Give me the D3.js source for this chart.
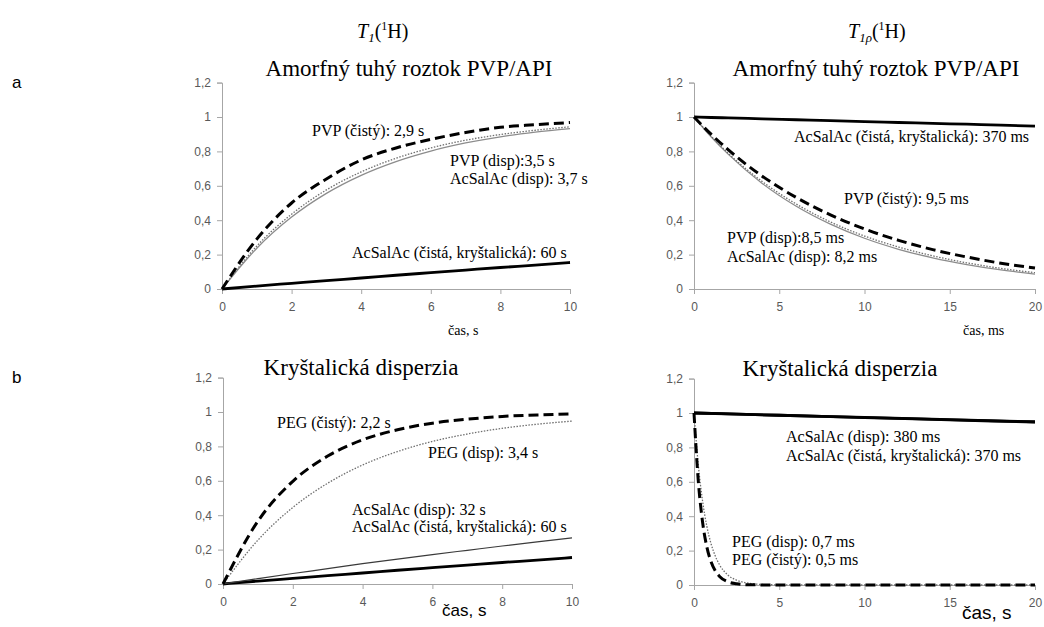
<!DOCTYPE html>
<html>
<head>
<meta charset="utf-8">
<script src="https://cdn.jsdelivr.net/npm/d3@7"></script>
<style>
  body { margin: 0; background: #fff; }
  .tick text { font-family: "Liberation Sans", Arial, sans-serif; font-size: 12px; fill: #595959; }
  .domain, .tick line { stroke: #a6a6a6; }
  .serif { font-family: "Liberation Serif", "Times New Roman", serif; fill: #000; }
</style>
</head>
<body>
<div id="chart"></div>
<script>
// time axes
const tT1 = [0, 1, 2, 3, 4, 5, 6, 7, 8, 9, 10];
const tT1rho = [0, 1, 2, 4, 6, 8, 10, 12, 14, 16, 18, 20];
const tFast = [0, 0.25, 0.5, 0.75, 1, 1.25, 1.5, 2, 2.5, 3, 3.5, 4, 5, 10, 15, 20];
const tSlow = [0, 5, 10, 15, 20];

// a) amorphous solid dispersion, T1
const pvpPureT1 = [0, 0.29, 0.50, 0.64, 0.75, 0.82, 0.87, 0.91, 0.94, 0.955, 0.968];
const pvpDispT1 = [0, 0.25, 0.435, 0.576, 0.681, 0.76, 0.82, 0.865, 0.898, 0.923, 0.943];
const aspDispT1 = [0, 0.237, 0.418, 0.556, 0.661, 0.741, 0.802, 0.849, 0.885, 0.912, 0.933];
const aspCrystT1 = [0, 0.017, 0.033, 0.049, 0.064, 0.080, 0.095, 0.110, 0.125, 0.139, 0.154];

// a) amorphous solid dispersion, T1rho
const aspCrystT1rho = [1, 0.997, 0.995, 0.989, 0.984, 0.979, 0.973, 0.968, 0.963, 0.958, 0.953, 0.947];
const pvpPureT1rho = [1, 0.90, 0.81, 0.656, 0.532, 0.431, 0.349, 0.283, 0.229, 0.186, 0.150, 0.122];
const pvpDispT1rho = [1, 0.889, 0.790, 0.625, 0.494, 0.390, 0.308, 0.244, 0.193, 0.152, 0.120, 0.095];
const aspDispT1rho = [1, 0.885, 0.784, 0.614, 0.481, 0.377, 0.295, 0.231, 0.181, 0.142, 0.111, 0.087];

// b) crystalline dispersion, T1
const pegPureT1 = [0, 0.365, 0.597, 0.744, 0.838, 0.897, 0.935, 0.958, 0.974, 0.983, 0.989];
const pegDispT1 = [0, 0.255, 0.445, 0.586, 0.692, 0.77, 0.829, 0.872, 0.905, 0.929, 0.947];
const aspDispCrT1 = [0, 0.031, 0.061, 0.089, 0.118, 0.145, 0.171, 0.196, 0.221, 0.245, 0.268];

// b) crystalline dispersion, T1rho
const pegPureT1rho = [1, 0.607, 0.368, 0.223, 0.135, 0.082, 0.050, 0.018, 0.007, 0.002, 0.001, 0, 0, 0, 0, 0];
const pegDispT1rho = [1, 0.700, 0.490, 0.343, 0.240, 0.168, 0.117, 0.057, 0.028, 0.014, 0.007, 0.003, 0.001, 0, 0, 0];
const aspDispCrT1rho = [1, 0.987, 0.974, 0.961, 0.949];
const aspCrystCrT1rho = [1, 0.987, 0.973, 0.960, 0.947];

const yTicks = [0, 0.2, 0.4, 0.6, 0.8, 1, 1.2];
const xTicksS = [0, 2, 4, 6, 8, 10];
const xTicksMs = [0, 5, 10, 15, 20];

const styles = {
    thick: { stroke: "#000", width: 2.8, dash: null },
    dashed: { stroke: "#000", width: 3, dash: "10,5" },
    grayLine: { stroke: "#8c8c8c", width: 1.3, dash: null },
    dotted: { stroke: "#6f6f6f", width: 1.3, dash: "1.5,1.5" },
    darkLine: { stroke: "#3a3a3a", width: 1.2, dash: null }
};

const panels = [
    {
        x: [222, 570], y: [289, 82.6], xMax: 10, xTicks: xTicksS,
        title: "Amorfný tuhý roztok PVP/API", titleX: 409, titleY: 76,
        axisLabel: { text: "čas, s", x: 448, y: 335, serif: true, size: 14 },
        series: [
            { t: tT1, v: aspCrystT1, style: "thick" },
            { t: tT1, v: aspDispT1, style: "grayLine" },
            { t: tT1, v: pvpDispT1, style: "dotted" },
            { t: tT1, v: pvpPureT1, style: "dashed" }
        ],
        notes: [
            { text: "PVP (čistý): 2,9 s", x: 312, y: 136 },
            { text: "PVP (disp):3,5 s", x: 450, y: 166 },
            { text: "AcSalAc (disp): 3,7 s", x: 450, y: 184 },
            { text: "AcSalAc (čistá, kryštalická): 60 s", x: 352, y: 258 }
        ]
    },
    {
        x: [694, 1035], y: [289, 82.6], xMax: 20, xTicks: xTicksMs,
        title: "Amorfný tuhý roztok PVP/API", titleX: 876, titleY: 76,
        axisLabel: { text: "čas, ms", x: 963, y: 335, serif: true, size: 14 },
        series: [
            { t: tT1rho, v: aspCrystT1rho, style: "thick" },
            { t: tT1rho, v: aspDispT1rho, style: "grayLine" },
            { t: tT1rho, v: pvpDispT1rho, style: "dotted" },
            { t: tT1rho, v: pvpPureT1rho, style: "dashed" }
        ],
        notes: [
            { text: "AcSalAc (čistá, kryštalická): 370 ms", x: 794, y: 142 },
            { text: "PVP (čistý): 9,5 ms", x: 844, y: 204 },
            { text: "PVP (disp):8,5 ms", x: 727, y: 243 },
            { text: "AcSalAc (disp): 8,2 ms", x: 727, y: 262 }
        ]
    },
    {
        x: [223, 572], y: [584, 377.6], xMax: 10, xTicks: xTicksS,
        title: "Kryštalická disperzia", titleX: 361, titleY: 375,
        axisLabel: { text: "čas, s", x: 442, y: 616, serif: false, size: 17 },
        series: [
            { t: tT1, v: aspCrystT1, style: "thick" },
            { t: tT1, v: aspDispCrT1, style: "darkLine" },
            { t: tT1, v: pegDispT1, style: "dotted" },
            { t: tT1, v: pegPureT1, style: "dashed" }
        ],
        notes: [
            { text: "PEG (čistý): 2,2 s", x: 277, y: 428 },
            { text: "PEG (disp): 3,4 s", x: 428, y: 458 },
            { text: "AcSalAc (disp): 32 s", x: 352, y: 515 },
            { text: "AcSalAc (čistá, kryštalická): 60 s", x: 352, y: 532 }
        ]
    },
    {
        x: [694, 1035], y: [585, 378.6], xMax: 20, xTicks: xTicksMs,
        title: "Kryštalická disperzia", titleX: 840, titleY: 376,
        axisLabel: { text: "čas, s", x: 962, y: 619, serif: false, size: 19 },
        series: [
            { t: tSlow, v: aspCrystCrT1rho, style: "thick" },
            { t: tSlow, v: aspDispCrT1rho, style: "thick" },
            { t: tFast, v: pegDispT1rho, style: "dotted" },
            { t: tFast, v: pegPureT1rho, style: "dashed" }
        ],
        notes: [
            { text: "AcSalAc (disp): 380 ms", x: 786, y: 442 },
            { text: "AcSalAc (čistá, kryštalická): 370 ms", x: 786, y: 461 },
            { text: "PEG (disp): 0,7 ms", x: 732, y: 547 },
            { text: "PEG (čistý): 0,5 ms", x: 732, y: 565 }
        ]
    }
];

const svg = d3.select("#chart").append("svg")
    .attr("width", 1044)
    .attr("height", 627);

function fmt(d) {
    return String(d).replace(".", ",");
}

panels.forEach(function(p) {
    const x = d3.scaleLinear().domain([0, p.xMax]).range(p.x);
    const y = d3.scaleLinear().domain([0, 1.2]).range(p.y);
    const g = svg.append("g");

    g.append("g")
        .attr("transform", `translate(${p.x[0]},0)`)
        .call(d3.axisLeft(y).tickValues(yTicks).tickFormat(fmt).tickSize(5).tickSizeOuter(5).tickPadding(6));

    g.append("g")
        .attr("transform", `translate(0,${y(0)})`)
        .call(d3.axisBottom(x).tickValues(p.xTicks).tickFormat(fmt).tickSize(5).tickSizeOuter(0).tickPadding(8));

    const line = d3.line()
        .x(d => x(d[0]))
        .y(d => y(d[1]))
        .curve(d3.curveMonotoneX);

    p.series.forEach(function(s) {
        const st = styles[s.style];
        g.append("path")
            .datum(s.t.map((t, i) => [t, s.v[i]]))
            .attr("fill", "none")
            .attr("stroke", st.stroke)
            .attr("stroke-width", st.width)
            .attr("stroke-dasharray", st.dash)
            .attr("d", line);
    });

    g.append("text")
        .attr("class", "serif")
        .attr("x", p.titleX)
        .attr("y", p.titleY)
        .attr("text-anchor", "middle")
        .style("font-size", "23px")
        .text(p.title);

    p.notes.forEach(function(n) {
        g.append("text")
            .attr("class", "serif")
            .attr("x", n.x)
            .attr("y", n.y)
            .style("font-size", "16px")
            .text(n.text);
    });

    g.append("text")
        .attr("x", p.axisLabel.x)
        .attr("y", p.axisLabel.y)
        .style("font-family", p.axisLabel.serif ? "Liberation Serif, serif" : "Liberation Sans, Arial, sans-serif")
        .style("font-size", p.axisLabel.size + "px")
        .text(p.axisLabel.text);
});

// column headings T1(1H) and T1rho(1H)
function heading(xPos, sub) {
    const t = svg.append("text")
        .attr("class", "serif")
        .attr("x", xPos)
        .attr("y", 38)
        .style("font-size", "20px");
    t.append("tspan").style("font-style", "italic").text("T");
    t.append("tspan").style("font-style", "italic").style("font-size", "13px").attr("dy", 4).text(sub);
    t.append("tspan").attr("dy", -4).text("(");
    t.append("tspan").style("font-size", "12px").attr("dy", -8).text("1");
    t.append("tspan").attr("dy", 8).text("H)");
}
heading(357, "1");
heading(848, "1ρ");

// row letters
svg.append("text").attr("x", 12).attr("y", 88)
    .style("font-family", "Liberation Sans, Arial, sans-serif").style("font-size", "17px").text("a");
svg.append("text").attr("x", 12).attr("y", 383)
    .style("font-family", "Liberation Sans, Arial, sans-serif").style("font-size", "17px").text("b");
</script>
</body>
</html>
